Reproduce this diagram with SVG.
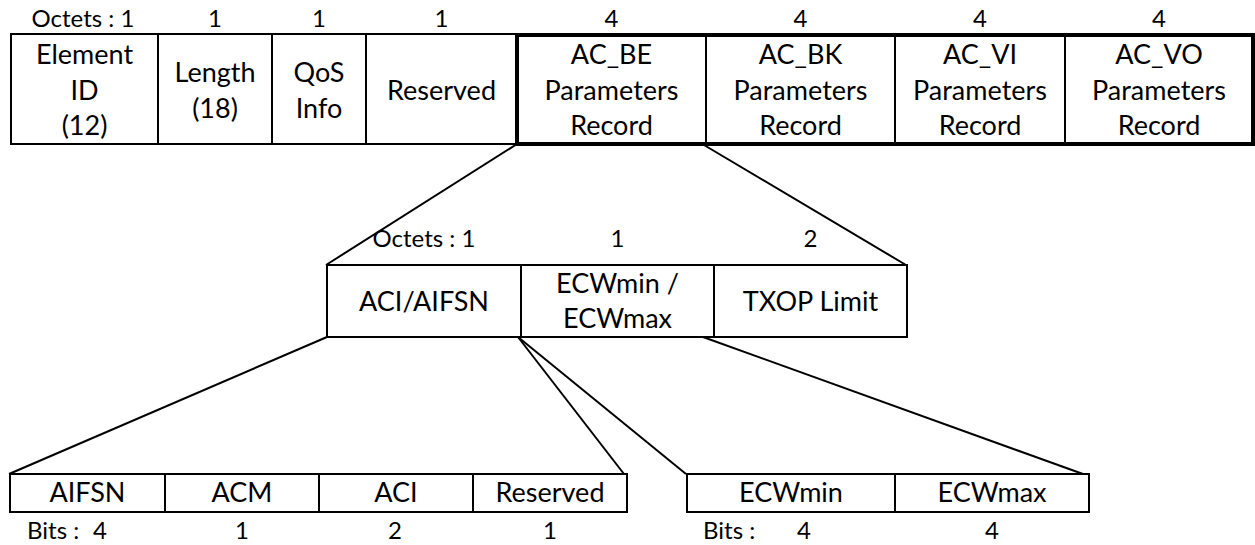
<svg xmlns="http://www.w3.org/2000/svg" width="1255" height="545" viewBox="0 0 1255 545">
<style>
  .box{fill:#fff;stroke:#000;stroke-width:2}
  .thick{fill:none;stroke:#000;stroke-width:4}
  .div{stroke:#000;stroke-width:2}
  .t{font-family:Lato,"Liberation Sans",sans-serif;font-size:27px;fill:#000;text-anchor:middle}
  .l{font-family:Lato,"Liberation Sans",sans-serif;font-size:24px;fill:#000;text-anchor:middle}
  .ls{text-anchor:start}
  .con line{stroke:#000;stroke-width:2;fill:none}
</style>
<rect width="1255" height="545" fill="#fff"/>
<g id="connectors" class="con">
  <line x1="517" y1="144" x2="326" y2="265"/>
  <line x1="704" y1="145" x2="906" y2="265"/>
  <line x1="327" y1="337" x2="9" y2="474"/>
  <line x1="518" y1="337" x2="624" y2="474"/>
  <line x1="518" y1="337" x2="686" y2="474"/>
  <line x1="703" y1="337" x2="1083" y2="474"/>
</g>
<g id="top-labels">
  <text class="l" x="83" y="27">Octets : 1</text>
  <text class="l" x="215" y="27">1</text>
  <text class="l" x="319" y="27">1</text>
  <text class="l" x="441.5" y="27">1</text>
  <text class="l" x="611.5" y="27">4</text>
  <text class="l" x="800.5" y="27">4</text>
  <text class="l" x="980" y="27">4</text>
  <text class="l" x="1159" y="27">4</text>
</g>
<g id="top-row">
  <rect class="box" x="11" y="34" width="506" height="110"/>
  <line class="div" x1="158" y1="34" x2="158" y2="144"/>
  <line class="div" x1="272" y1="34" x2="272" y2="144"/>
  <line class="div" x1="366" y1="34" x2="366" y2="144"/>
  <line class="div" x1="706" y1="35" x2="706" y2="144"/>
  <line class="div" x1="895" y1="35" x2="895" y2="144"/>
  <line class="div" x1="1065" y1="35" x2="1065" y2="144"/>
  <rect class="thick" x="517" y="35" width="736" height="109"/>
</g>
<g id="element-id">
  <text class="t" x="84.5" y="64">Element</text>
  <text class="t" x="84.5" y="99.5">ID</text>
  <text class="t" x="84.5" y="135">(12)</text>
</g>
<g id="length">
  <text class="t" x="215" y="82">Length</text>
  <text class="t" x="215" y="117.5">(18)</text>
</g>
<g id="qos-info">
  <text class="t" x="319" y="82">QoS</text>
  <text class="t" x="319" y="117.5">Info</text>
</g>
<g id="reserved-top">
  <text class="t" x="441.5" y="100">Reserved</text>
</g>
<g id="ac-be">
  <text class="t" x="611.5" y="64">AC_BE</text>
  <text class="t" x="611.5" y="100">Parameters</text>
  <text class="t" x="611.5" y="135">Record</text>
</g>
<g id="ac-bk">
  <text class="t" x="800.5" y="64">AC_BK</text>
  <text class="t" x="800.5" y="100">Parameters</text>
  <text class="t" x="800.5" y="135">Record</text>
</g>
<g id="ac-vi">
  <text class="t" x="980" y="64">AC_VI</text>
  <text class="t" x="980" y="100">Parameters</text>
  <text class="t" x="980" y="135">Record</text>
</g>
<g id="ac-vo">
  <text class="t" x="1159" y="64">AC_VO</text>
  <text class="t" x="1159" y="100">Parameters</text>
  <text class="t" x="1159" y="135">Record</text>
</g>
<g id="middle-labels">
  <text class="l" x="424" y="247">Octets : 1</text>
  <text class="l" x="617.5" y="247">1</text>
  <text class="l" x="810.5" y="247">2</text>
</g>
<g id="middle-row">
  <rect class="box" x="327" y="265" width="580" height="72"/>
  <line class="div" x1="521" y1="265" x2="521" y2="337"/>
  <line class="div" x1="714" y1="265" x2="714" y2="337"/>
</g>
<g id="aci-aifsn">
  <text class="t" x="424" y="311">ACI/AIFSN</text>
</g>
<g id="ecw">
  <text class="t" x="617.5" y="293">ECWmin /</text>
  <text class="t" x="617.5" y="328">ECWmax</text>
</g>
<g id="txop">
  <text class="t" x="810.5" y="311">TXOP Limit</text>
</g>
<g id="bottom-left">
  <rect class="box" x="10" y="474" width="617" height="38"/>
  <line class="div" x1="165" y1="474" x2="165" y2="512"/>
  <line class="div" x1="319" y1="474" x2="319" y2="512"/>
  <line class="div" x1="473" y1="474" x2="473" y2="512"/>
  <text class="t" x="87.5" y="502">AIFSN</text>
  <text class="t" x="242" y="502">ACM</text>
  <text class="t" x="396" y="502">ACI</text>
  <text class="t" x="550" y="502">Reserved</text>
</g>
<g id="bottom-right">
  <rect class="box" x="687" y="474" width="402" height="38"/>
  <line class="div" x1="895" y1="474" x2="895" y2="512"/>
  <text class="t" x="791" y="502">ECWmin</text>
  <text class="t" x="992" y="502">ECWmax</text>
</g>
<g id="bottom-labels">
  <text class="l ls" x="27" y="539">Bits :</text>
  <text class="l" x="100" y="539">4</text>
  <text class="l" x="242" y="539">1</text>
  <text class="l" x="395" y="539">2</text>
  <text class="l" x="550" y="539">1</text>
  <text class="l ls" x="703" y="539">Bits :</text>
  <text class="l" x="804" y="539">4</text>
  <text class="l" x="992" y="539">4</text>
</g>
</svg>
